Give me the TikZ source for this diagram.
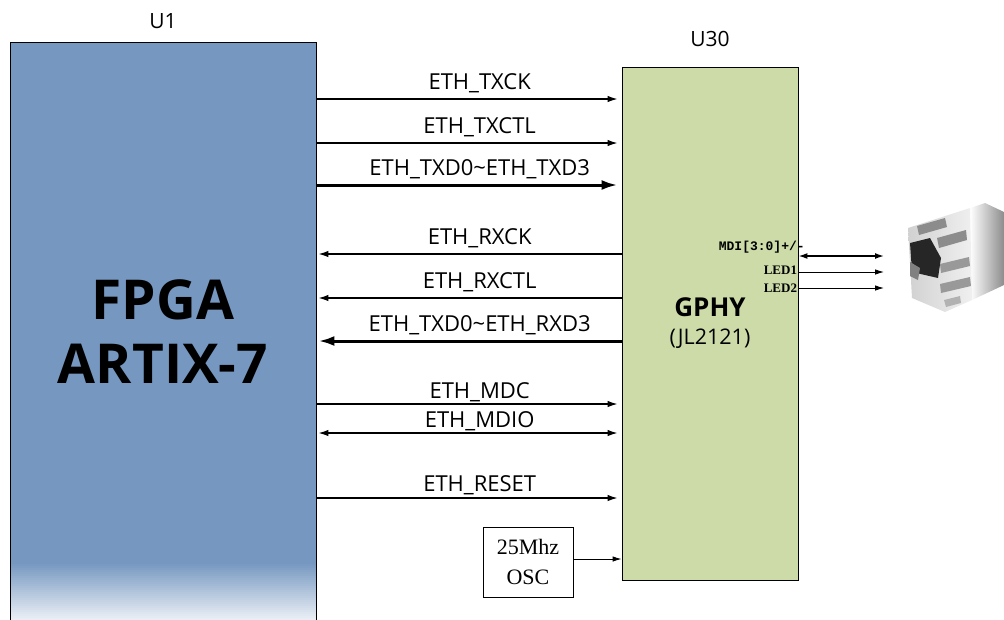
\documentclass[tikz,border=0pt]{standalone}
\usepackage{fontspec}
\setmainfont{Open Sans}
\newfontfamily\pinfont{Liberation Serif}
\newfontfamily\pinmono{Liberation Mono}
\usepackage{color}
\definecolor{myfpgablue}{RGB}{117,151,192}
\definecolor{myphygreen}{RGB}{204,219,168}
\usetikzlibrary{arrows.meta,positioning,calc}

\begin{document}
\begin{tikzpicture}[
  x=1pt, y=-1pt,
  mychip/.style={
    draw,
    line width=0.9pt,
    rectangle,
    inner sep=0pt,
    align=center
    },
  mysig/.style={-{Latex[length=10pt, width=6.5pt]}, line width=1.3pt, shorten >=4pt},
  mysigback/.style={{Latex[length=10pt, width=6.5pt]}-, line width=1.3pt, shorten <=2pt},
  mysigboth/.style={{Latex[length=10pt, width=6.5pt]}-{Latex[length=10pt, width=6.5pt]},
    line width=1.3pt, shorten <=2pt, shorten >=4pt},
  mybus/.style={-{Latex[length=16pt, width=10pt]}, line width=3pt, shorten >=4pt},
  mybusback/.style={{Latex[length=16pt, width=10pt]}-, line width=3pt, shorten <=2pt},
  mylabel/.style={above=5pt, pos=0.535, inner sep=0pt, font=\fontsize{22}{22}\selectfont},
  mypin/.style={inner sep=1pt, font=\pinfont\bfseries\fontsize{13}{13}\selectfont},
  myport/.style={-{Latex[length=9pt, width=5.5pt]}, line width=0.9pt},
  mytitle/.style={font=\fontsize{21}{21}\selectfont, inner sep=0pt}
]
\useasboundingbox (0,0) rectangle (1004,619);
\clip (0,0) rectangle (1004,619);

% FPGA and PHY
\node [mychip, fill=myfpgablue, minimum width=306pt, minimum height=580pt,
  font=\bfseries\fontsize{55}{64}\selectfont,
  path picture={
    \foreach \i in {0,...,29}
      \fill [myfpgablue!\the\numexpr100-3*\i\relax!white]
        ([yshift=60pt-2*\i pt]path picture bounding box.south west)
        rectangle ([yshift=57.8pt-2*\i pt]path picture bounding box.south east);},
  label={[mytitle, yshift=13pt]above:U1}]
  (u1) at (163,332) {FPGA\\ARTIX-7};
\node [mychip, fill=myphygreen, minimum width=176pt, minimum height=513pt,
  font=\fontsize{20}{28}\selectfont,
  label={[mytitle, yshift=20pt]above:U30}]
  (u30) at (710,323.5) {{\bfseries\fontsize{26}{28}\selectfont GPHY}\\
  {\fontsize{21.5}{28}\selectfont (JL2121)}};

% RGMII
\draw [mysig] (u1.east |- 0,99) -- (u30.west |- 0,99) node [mylabel] {ETH\_TXCK};
\draw [mysig] (u1.east |- 0,143) -- (u30.west |- 0,143) node [mylabel] {ETH\_TXCTL};
\draw [mybus] (u1.east |- 0,185) -- (u30.west |- 0,185) node [mylabel] {ETH\_TXD0\textasciitilde ETH\_TXD3};
\draw [mysigback] (u1.east |- 0,254) -- (u30.west |- 0,254) node [mylabel] {ETH\_RXCK};
\draw [mysigback] (u1.east |- 0,298) -- (u30.west |- 0,298) node [mylabel] {ETH\_RXCTL};
\draw [mybusback] (u1.east |- 0,341) -- (u30.west |- 0,341) node [mylabel] {ETH\_TXD0\textasciitilde ETH\_RXD3};

% MDIO and reset
\draw [mysig] (u1.east |- 0,404) -- (u30.west |- 0,404) node [mylabel, above=1pt] {ETH\_MDC};
\draw [mysigboth] (u1.east |- 0,433) -- (u30.west |- 0,433) node [mylabel, above=1pt] {ETH\_MDIO};
\draw [mysig] (u1.east |- 0,498) -- (u30.west |- 0,498) node [mylabel, above=2pt] {ETH\_RESET};

% clock
\node [mychip, line width=0.7pt, minimum width=90pt, minimum height=70pt,
  font=\pinfont\fontsize{22}{30}\selectfont] (osc) at (528,562) {25Mhz\\OSC};
\draw [myport] (osc.east |- 0,559) -- (u30.west |- 0,559);

% RJ45 side
\coordinate (rjmdi) at (884,256);
\coordinate (rjled1) at (884,272);
\coordinate (rjled2) at (884,288);
\draw [myport, {Latex[length=9pt, width=6pt]}-{Latex[length=9pt, width=6pt]}, line width=1.5pt]
  (u30.east |- rjmdi) -- (rjmdi)
  node [mypin, font=\pinmono\bfseries\fontsize{13}{13}\selectfont, pos=0, anchor=south east,
    xshift=8pt, yshift=1pt] {MDI[3:0]+/-};
\draw [myport] (u30.east |- rjled1) -- (rjled1)
  node [mypin, pos=0, anchor=east, yshift=2pt] {LED1};
\draw [myport] (u30.east |- rjled2) -- (rjled2)
  node [mypin, pos=0, anchor=east] {LED2};

% jack
\shade [left color=white, right color=black!45] (970,208) -- (985,203) -- (1004,212) -- (1004,285) -- (972,300) -- cycle;
\shade [left color=black!18, right color=black!6] (908,228) -- (970,208) -- (972,300) -- (945,312) -- (912,298) -- cycle;
\fill [black!85] (910,243) -- (930,238) -- (941,258) -- (938,278) -- (912,272) -- cycle;
\fill [black!50] (910,262) -- (920,268) -- (918,280) -- (910,276) -- cycle;
\fill [black!45] (917,226) -- (945,218) -- (947,227) -- (919,235) -- cycle;
\fill [black!45] (937,238) -- (966,230) -- (967,240) -- (939,248) -- cycle;
\fill [black!40] (940,264) -- (969,257) -- (970,266) -- (941,273) -- cycle;
\fill [black!40] (940,284) -- (970,277) -- (971,286) -- (941,293) -- cycle;
\fill [black!30] (944,300) -- (960,296) -- (961,303) -- (946,307) -- cycle;
\end{tikzpicture}
\end{document}
